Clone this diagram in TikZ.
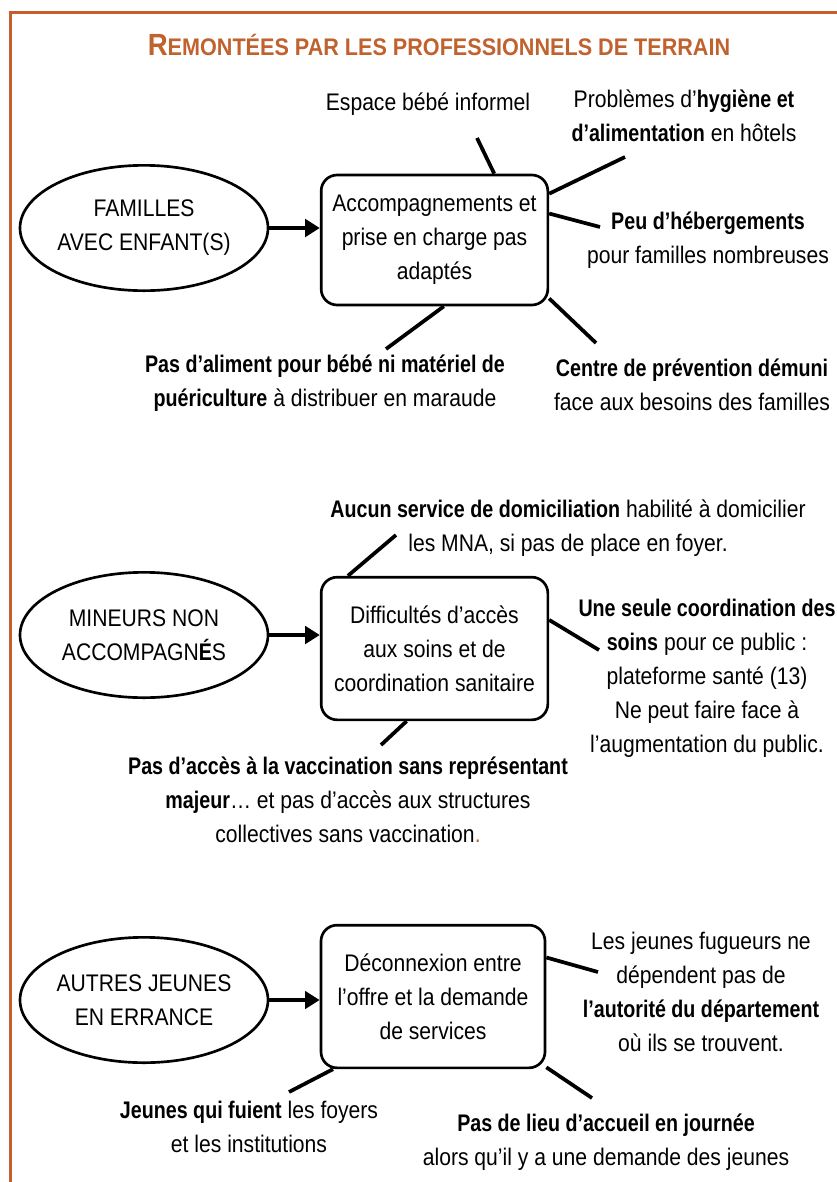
\documentclass[tikz,border=0pt]{standalone}
\usepackage{fontspec}
\setmainfont{Liberation Sans}[FakeStretch=0.88, BoldFeatures={FakeStretch=0.82}]
\newfontfamily\titlefont{Liberation Sans Bold}[FakeStretch=0.9]
\usetikzlibrary{arrows.meta, positioning, shapes.geometric}
\definecolor{frameorange}{HTML}{C65F2A}
\definecolor{titleorange}{HTML}{C0622E}

\begin{document}
\begin{tikzpicture}[
  x=0.75pt, y=-0.75pt,
  font=\fontsize{18}{25.5}\selectfont,
  public/.style={draw, ellipse, line width=2pt, minimum width=186pt, minimum height=94pt, inner sep=0pt, align=center},
  issue/.style={draw, rounded corners=12pt, line width=2pt, minimum width=170pt, align=center, inner sep=0pt},
  note/.style={align=center, inner sep=0pt},
  titletext/.style={font=\titlefont\fontsize{18}{18}\selectfont, text=titleorange, inner sep=0pt},
  spoke/.style={line width=2.8pt},
  feed/.style={-{Triangle[length=11pt, width=13pt]}, line width=3.6pt}
]
\useasboundingbox (0,0) rectangle (837,1182);

% Frame and title
\draw[frameorange, line width=2.6pt] (10.5,1182) -- (10.5,12.5) -- (837,12.5);
\node[titletext] (title) at (439,45) {{\fontsize{23}{23}\selectfont R}EMONTÉES PAR LES PROFESSIONNELS DE TERRAIN};

% Familles avec enfant(s)
\node[public] (fam) at (144,228) {FAMILLES\\AVEC ENFANT(S)};
\node[issue, minimum height=97.5pt] (acc) at (434.5,240) {Accompagnements et\\prise en charge pas\\adaptés};
\node[note] (bebe) at (428,104) {Espace bébé informel};
\node[note] (hyg) at (684,116) {Problèmes d’\textbf{hygiène et}\\\textbf{d’alimentation} en hôtels};
\node[note] (heb) at (708,240) {\textbf{Peu d’hébergements}\\pour familles nombreuses};
\node[note] (alim) at (325,383) {\textbf{Pas d’aliment pour bébé ni matériel de}\\\textbf{puériculture} à distribuer en maraude};
\node[note] (cpd) at (692,385) {\textbf{Centre de prévention démuni}\\face aux besoins des familles};

\coordinate (bebe-end) at (477,138);
\coordinate (hyg-end) at (625,157);
\coordinate (heb-end) at (600,227);
\coordinate (alim-end) at (386,349);
\coordinate (cpd-end) at (596,343);

\draw[feed] (fam.east) -- (fam.east -| acc.west);
\draw[spoke] (acc.48) -- (bebe-end);
\draw[spoke] (acc.22) -- (hyg-end);
\draw[spoke] (acc.13) -- (heb-end);
\draw[spoke] (acc.-82) -- (alim-end);
\draw[spoke] (acc.-27) -- (cpd-end);

% Mineurs non accompagnes
\node[public] (mna) at (144,635) {MINEURS NON\\ACCOMPAGN\textbf{É}S};
\node[issue, minimum height=107pt] (acs) at (434.5,648.5) {Difficultés d’accès\\aux soins et de\\coordination sanitaire};
\node[note] (dom) at (568,528) {\textbf{Aucun service de domiciliation} habilité à domicilier\\les MNA, si pas de place en foyer.};
\node[note] (coord) at (707,678) {\textbf{Une seule coordination des}\\\textbf{soins} pour ce public :\\plateforme santé (13)\\Ne peut faire face à\\l’augmentation du public.};
\node[note] (vacc) at (348,800) {\textbf{Pas d’accès à la vaccination sans représentant}\\\textbf{majeur}… et pas d’accès aux structures\\collectives sans vaccination{\color{titleorange}.}};

\coordinate (dom-end) at (396,535);
\coordinate (coord-end) at (599,650);
\coordinate (vacc-end) at (381,745);

\draw[feed] (mna.east) -- (mna.east -| acs.west);
\draw[spoke] (acs.140) -- (dom-end);
\draw[spoke] (acs.14) -- (coord-end);
\draw[spoke] (acs.-111) -- (vacc-end);

% Autres jeunes en errance
\node[public] (err) at (144,1000) {AUTRES JEUNES\\EN ERRANCE};
\node[issue, minimum height=107pt, minimum width=168pt] (dec) at (433,996.5) {Déconnexion entre\\l’offre et la demande\\de services};
\node[note] (fug) at (701,992) {Les jeunes fugueurs ne\\dépendent pas de\\\textbf{l’autorité du département}\\où ils se trouvent.};
\node[note] (fuient) at (249,1127) {\textbf{Jeunes qui fuient} les foyers\\et les institutions};
\node[note] (lieu) at (606,1142) {\textbf{Pas de lieu d’accueil en journée}\\alors qu’il y a une demande des jeunes};

\coordinate (fug-end) at (598,972);
\coordinate (fuient-end) at (289,1092);
\coordinate (lieu-end) at (592,1098);

\draw[feed] (err.east) -- (err.east -| dec.west);
\draw[spoke] (dec.19) -- (fug-end);
\draw[spoke] (dec.-144) -- (fuient-end);
\draw[spoke] (dec.-32) -- (lieu-end);

\end{tikzpicture}
\end{document}
